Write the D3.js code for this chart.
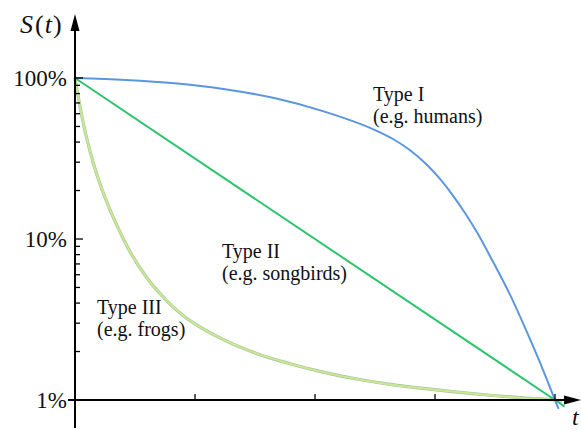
<!DOCTYPE html>
<html>
<head>
<meta charset="utf-8">
<script src="https://cdn.jsdelivr.net/npm/d3@7"></script>
<style>
  html, body { margin: 0; padding: 0; background: #fff; }
  svg { display: block; }
  text { font-family: "Liberation Serif", "DejaVu Serif", serif; fill: #111; }
</style>
</head>
<body>
<svg id="chart" width="581" height="430"></svg>
<script>
// ---- data ----
const yMajorTicks = [1, 10, 100];
const yMajorLabels = ["1%", "10%", "100%"];
const yMinorTicks = [2, 3, 4, 5, 6, 7, 8, 9, 20, 30, 40, 50, 60, 70, 80, 90];
const xTicks = [1, 2, 3, 4];

const typeI_t = [0, 0.42, 0.83, 1.25, 1.67, 2.08, 2.5, 2.65, 2.79, 2.93, 3.04, 3.15, 3.25, 3.35, 3.48, 3.63, 3.77, 3.9, 4.0, 4.03];
const typeI_s = [100, 97.2, 92.7, 85.1, 74.8, 61.8, 47.5, 41.8, 35.7, 29.0, 23.7, 18.6, 14.5, 11.0, 7.3, 4.43, 2.6, 1.54, 1.0, 0.88];

const typeII_t = [0, 4.0, 4.08];
const typeII_s = [100, 1.0, 0.91];

const typeIII_t = [0, 0.067, 0.15, 0.233, 0.35, 0.458, 0.6, 0.767, 0.9, 1.0, 1.233, 1.517, 1.792, 2.067, 2.35, 2.625, 2.9, 3.183, 3.458, 3.733, 4.0, 4.06];
const typeIII_s = [100, 53.3, 30.1, 19.6, 12.1, 8.35, 5.72, 4.12, 3.35, 2.97, 2.38, 1.94, 1.68, 1.49, 1.35, 1.25, 1.18, 1.12, 1.07, 1.03, 1.0, 0.985];

const labelTitles = ["Type I", "Type II", "Type III"];
const labelExamples = ["(e.g. humans)", "(e.g. songbirds)", "(e.g. frogs)"];

// ---- drawing ----
const svg = d3.select("#chart");
const x = d3.scaleLinear().domain([0, 4]).range([75, 555]);
const y = d3.scaleLog().domain([1, 100]).range([400, 78]);

const zip = (ts, ss) => ts.map((t, i) => ({ t, s: ss[i] }));
const line = d3.line().x(d => x(d.t)).y(d => y(d.s)).curve(d3.curveMonotoneX);

// Type III (light green with grey halo)
svg.append("path").datum(zip(typeIII_t, typeIII_s))
  .attr("d", line).attr("fill", "none")
  .attr("stroke", "#aebf9f").attr("stroke-width", 3.2);
svg.append("path").datum(zip(typeIII_t, typeIII_s))
  .attr("d", line).attr("fill", "none")
  .attr("stroke", "#c6ea92").attr("stroke-width", 2);

// Type II
svg.append("path").datum(zip(typeII_t, typeII_s))
  .attr("d", d3.line().x(d => x(d.t)).y(d => y(d.s))).attr("fill", "none")
  .attr("stroke", "#2cc46c").attr("stroke-width", 2);

// Type I
svg.append("path").datum(zip(typeI_t, typeI_s))
  .attr("d", line).attr("fill", "none")
  .attr("stroke", "#5b97e0").attr("stroke-width", 2);

// ---- axes ----
const axisColor = "#000";
svg.append("line").attr("x1", x(0)).attr("x2", x(0)).attr("y1", 428).attr("y2", 26)
  .attr("stroke", axisColor).attr("stroke-width", 2);
svg.append("path").attr("d", `M${x(0)},14 L${x(0) - 4.5},31 L${x(0) + 4.5},31 Z`).attr("fill", axisColor);
svg.append("line").attr("x1", 68).attr("x2", 568).attr("y1", y(1)).attr("y2", y(1))
  .attr("stroke", axisColor).attr("stroke-width", 2);
svg.append("path").attr("d", `M581,${y(1)} L564,${y(1) - 4.5} L564,${y(1) + 4.5} Z`).attr("fill", axisColor);

svg.append("g").selectAll("line").data(yMinorTicks).join("line")
  .attr("x1", x(0)).attr("x2", x(0) + 5)
  .attr("y1", d => y(d)).attr("y2", d => y(d))
  .attr("stroke", axisColor).attr("stroke-width", 1.3);
svg.append("g").selectAll("line").data(yMajorTicks).join("line")
  .attr("x1", x(0)).attr("x2", x(0) + 8)
  .attr("y1", d => y(d)).attr("y2", d => y(d))
  .attr("stroke", axisColor).attr("stroke-width", 1.3);
svg.append("g").selectAll("text").data(yMajorTicks).join("text")
  .attr("x", 67).attr("y", d => y(d) + 8)
  .attr("text-anchor", "end").attr("font-size", 23)
  .text((d, i) => yMajorLabels[i]);

svg.append("g").selectAll("line").data(xTicks).join("line")
  .attr("x1", d => x(d)).attr("x2", d => x(d))
  .attr("y1", y(1)).attr("y2", y(1) - 6)
  .attr("stroke", axisColor).attr("stroke-width", 1.3);

// axis titles
const st = svg.append("text").attr("x", 20).attr("y", 33).attr("font-size", 26);
st.append("tspan").attr("font-style", "italic").text("S");
st.append("tspan").attr("dx", 2).text("(");
st.append("tspan").attr("font-style", "italic").attr("dx", 1).text("t");
st.append("tspan").attr("dx", 1).text(")");
svg.append("text").attr("x", 572).attr("y", 425).attr("font-size", 24)
  .attr("font-style", "italic").text("t");

// annotations
const labelPos = [[373, 101], [222, 258], [97, 314]];
labelTitles.forEach((lt, i) => {
  const [lx, ly] = labelPos[i];
  svg.append("text").attr("x", lx).attr("y", ly).attr("font-size", 20).text(lt);
  svg.append("text").attr("x", lx).attr("y", ly + 22).attr("font-size", 20).text(labelExamples[i]);
});
</script>
</body>
</html>
